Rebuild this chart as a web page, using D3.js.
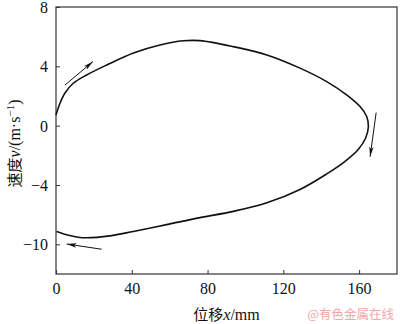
<!DOCTYPE html>
<html><head><meta charset="utf-8">
<script src="https://cdn.jsdelivr.net/npm/d3@7/dist/d3.min.js"></script>
<style>body{margin:0;background:#fff}svg{display:block}</style>
</head><body>
<svg id="c" width="400" height="324"></svg>
<script>
// displacement x (mm) along the loop
const dispX = [0, 2.1, 4.75, 9.1, 16.2, 26.8, 40.9, 54.9, 67.2, 76, 93.5, 111.3, 128.8, 142.9, 153.4, 160.5, 164, 164.9, 163.4, 159.2, 152.6, 142.9, 128.8, 111.3, 93.6, 76, 58.4, 40.8, 28.5, 16, 10.9, 5.6, 0.3];
// velocity v (m/s), axis-scale units
const velV  = [0.72, 1.51, 2.2, 2.86, 3.42, 4.09, 4.9, 5.44, 5.72, 5.73, 5.33, 4.77, 3.88, 2.97, 2.08, 1.29, 0.62, -0.05, -0.85, -1.66, -2.4, -3.25, -4.3, -5.2, -5.78, -6.2, -6.67, -7.13, -7.43, -7.56, -7.5, -7.35, -7.13];
const xTicks = [0, 40, 80, 120, 160];
const xTickLabels = ["0", "40", "80", "120", "160"];
const yTicks = [8, 4, 0, -4, -8];
const yTickLabels = ["8", "4", "0", "\u22124", "\u221210"];
// direction arrows: start (tail) and end (head) in data units
const arrowStart = [[4.75, 2.74], [169, 0.88], [24.1, -8.33]];
const arrowEnd   = [[19.5, 4.32], [165.8, -2.09], [5.6, -7.98]];

const svg = d3.select("#c");
const L = 56, R = 397, T = 7, B = 274;
const x = d3.scaleLinear().domain([0, 180]).range([L, R]);
const y = d3.scaleLinear().domain([-10, 8]).range([B, T]);
const font = "'Liberation Serif','Times New Roman',serif";

svg.append("defs").append("marker")
  .attr("id", "ah").attr("viewBox", "0 0 10 6").attr("refX", 10).attr("refY", 3)
  .attr("markerWidth", 10).attr("markerHeight", 6).attr("markerUnits", "userSpaceOnUse")
  .attr("orient", "auto")
  .append("path").attr("d", "M0,0.8 L10,3 L0,5.2 L2.5,3 Z").attr("fill", "#111");

// frame
svg.append("rect").attr("x", L).attr("y", T).attr("width", R - L).attr("height", B - T)
  .attr("fill", "none").attr("stroke", "#333").attr("stroke-width", 1.2);

const xa = svg.append("g").attr("transform", `translate(0,${B})`)
  .call(d3.axisBottom(x).tickValues(xTicks).tickSizeInner(-4).tickSizeOuter(0)
    .tickPadding(9).tickFormat((d, i) => xTickLabels[i]));
const ya = svg.append("g").attr("transform", `translate(${L},0)`)
  .call(d3.axisLeft(y).tickValues(yTicks).tickSizeInner(-4).tickSizeOuter(0)
    .tickPadding(8).tickFormat((d, i) => yTickLabels[i]));
[xa, ya].forEach(a => {
  a.select(".domain").remove();
  a.selectAll("line").attr("stroke", "#333");
  a.selectAll("text").attr("font-family", font).attr("font-size", 16).attr("fill", "#111");
});
ya.selectAll("text").attr("dy", "0.34em");

// curve
const pts = dispX.map((d, i) => [d, velV[i]]);
svg.append("path").datum(pts)
  .attr("d", d3.line().x(d => x(d[0])).y(d => y(d[1])).curve(d3.curveCatmullRom.alpha(0.5)))
  .attr("fill", "none").attr("stroke", "#111").attr("stroke-width", 1.6);

// arrows
arrowStart.forEach((s, i) => {
  const e = arrowEnd[i];
  svg.append("line").attr("x1", x(s[0])).attr("y1", y(s[1])).attr("x2", x(e[0])).attr("y2", y(e[1]))
    .attr("stroke", "#111").attr("stroke-width", 1).attr("marker-end", "url(#ah)");
});

// axis titles
const xt = svg.append("text").attr("x", (L + R) / 2).attr("y", 320).attr("text-anchor", "middle")
  .attr("font-family", font).attr("font-size", 16).attr("fill", "#111");
xt.append("tspan").attr("font-family", "'Noto Sans CJK SC'").attr("font-size", 15).text("位移");
xt.append("tspan").attr("font-style", "italic").text("x");
xt.append("tspan").text("/mm");

const yt = svg.append("text").attr("transform", `translate(20,${(T + B) / 2 + 3}) rotate(-90)`)
  .attr("text-anchor", "middle").attr("font-family", font).attr("font-size", 16).attr("fill", "#111");
yt.append("tspan").attr("font-family", "'Noto Sans CJK SC'").attr("font-size", 15).text("速度");
yt.append("tspan").attr("font-style", "italic").text("v");
yt.append("tspan").text("/(m\u00b7s");
yt.append("tspan").attr("font-size", 11).attr("dy", -6).text("\u22121");
yt.append("tspan").attr("dy", 6).text(")");

// watermark
svg.append("text").attr("x", 394).attr("y", 319).attr("text-anchor", "end")
  .attr("font-family", "'Noto Sans CJK SC'").attr("font-size", 12.5).attr("fill", "#f2a7a7")
  .text("@有色金属在线");
</script>
</body></html>
